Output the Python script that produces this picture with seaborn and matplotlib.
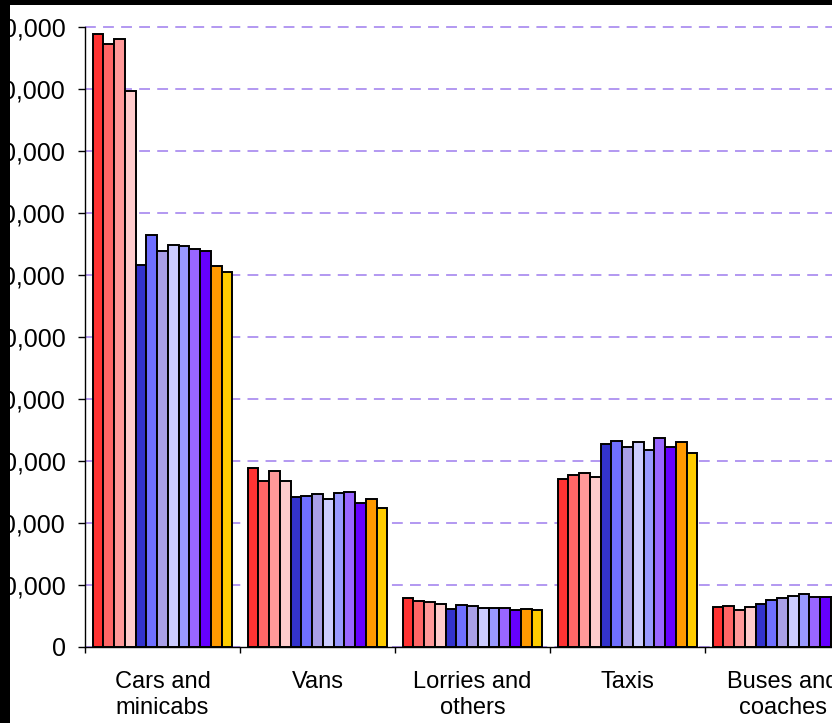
import matplotlib
matplotlib.use("Agg")
import matplotlib.pyplot as plt
import matplotlib.ticker as mticker
from matplotlib.patches import Rectangle
import seaborn as sns
import pandas as pd

categories = ["Cars and\nminicabs", "Vans", "Lorries and\nothers", "Taxis", "Buses and\ncoaches"]
series_names = ["S1", "S2", "S3", "S4", "S5", "S6", "S7", "S8", "S9", "S10", "S11", "S12", "S13"]
series_colors = ["#FF3333", "#FF6666", "#FF9999", "#FFCCCC", "#3333CC", "#6F6FFF",
                 "#A99FE8", "#CCCCFF", "#9999FF", "#9966FF", "#6600FF", "#FF9900", "#FFCC00"]

cars = [98900, 97300, 98100, 89600, 61600, 66500, 63800, 64900, 64600, 64200, 63800, 61500, 60500]
vans = [28900, 26800, 28400, 26800, 24200, 24400, 24600, 23800, 24800, 25000, 23200, 23800, 22500]
lorries = [7900, 7500, 7300, 6900, 6200, 6700, 6600, 6300, 6300, 6300, 5900, 6200, 5900]
taxis = [27100, 27700, 28100, 27500, 32700, 33300, 32200, 33100, 31800, 33700, 32300, 33100, 31300]
buses = [6500, 6600, 6000, 6500, 7000, 7600, 7900, 8300, 8500, 8100, 8100, 8000, 7900]

y_ticks = [0, 10000, 20000, 30000, 40000, 50000, 60000, 70000, 80000, 90000, 100000]

rows = []
for cat, vals in zip(categories, [cars, vans, lorries, taxis, buses]):
    for s, v in zip(series_names, vals):
        rows.append({"category": cat, "series": s, "value": v})
df = pd.DataFrame(rows)

sns.set_theme(style="white")
plt.rcParams["font.family"] = ["Liberation Sans", "DejaVu Sans"]

W, H = 832, 723
fig = plt.figure(figsize=(W / 100, H / 100), dpi=100)
ax = fig.add_axes([85 / W, (H - 647) / H, (W - 85) / W, (647 - 27) / H])

sns.barplot(data=df, x="category", y="value", hue="series", order=categories,
            hue_order=series_names, palette=series_colors, width=0.9,
            edgecolor="black", linewidth=1.4, ax=ax, legend=False, saturation=1)

ax.set_ylim(0, 100000)
ax.set_xlim(-0.5, (W - 85) / 155 - 0.5)
ax.set_yticks(y_ticks)
ax.yaxis.set_major_formatter(mticker.FuncFormatter(lambda v, p: f"{int(v):,}"))
ax.set_xlabel("")
ax.set_ylabel("")

ax.set_axisbelow(True)
ax.yaxis.grid(True, color="#AC90F0", linestyle=(0, (6, 4)), linewidth=1.3)
ax.xaxis.grid(False)
for gl in ax.get_ygridlines():
    gl.set_clip_on(False)

for side in ["top", "right"]:
    ax.spines[side].set_visible(False)
for side in ["left", "bottom"]:
    ax.spines[side].set_color("black")
    ax.spines[side].set_linewidth(1.0)
    ax.spines[side].set_visible(True)

ax.tick_params(axis="y", which="major", direction="out", length=5, width=1,
               color="black", pad=9, labelsize=18, labelcolor="black", left=True)
ax.tick_params(axis="x", which="major", length=0, pad=17, labelsize=17, labelcolor="black")
ax.set_xticks([i - 0.5 for i in range(len(categories))], minor=True)
ax.tick_params(axis="x", which="minor", direction="out", length=4.5, width=1,
               color="black", bottom=True)
for lbl in ax.get_xticklabels():
    lbl.set_linespacing(1.25)

fig.add_artist(Rectangle((0, 0), 10 / W, 1, transform=fig.transFigure,
                         facecolor="black", edgecolor="none", zorder=10))
fig.add_artist(Rectangle((0, 1 - 5 / H), 1, 5 / H, transform=fig.transFigure,
                         facecolor="black", edgecolor="none", zorder=10))

fig.savefig("out.png", dpi=100, facecolor="white")
